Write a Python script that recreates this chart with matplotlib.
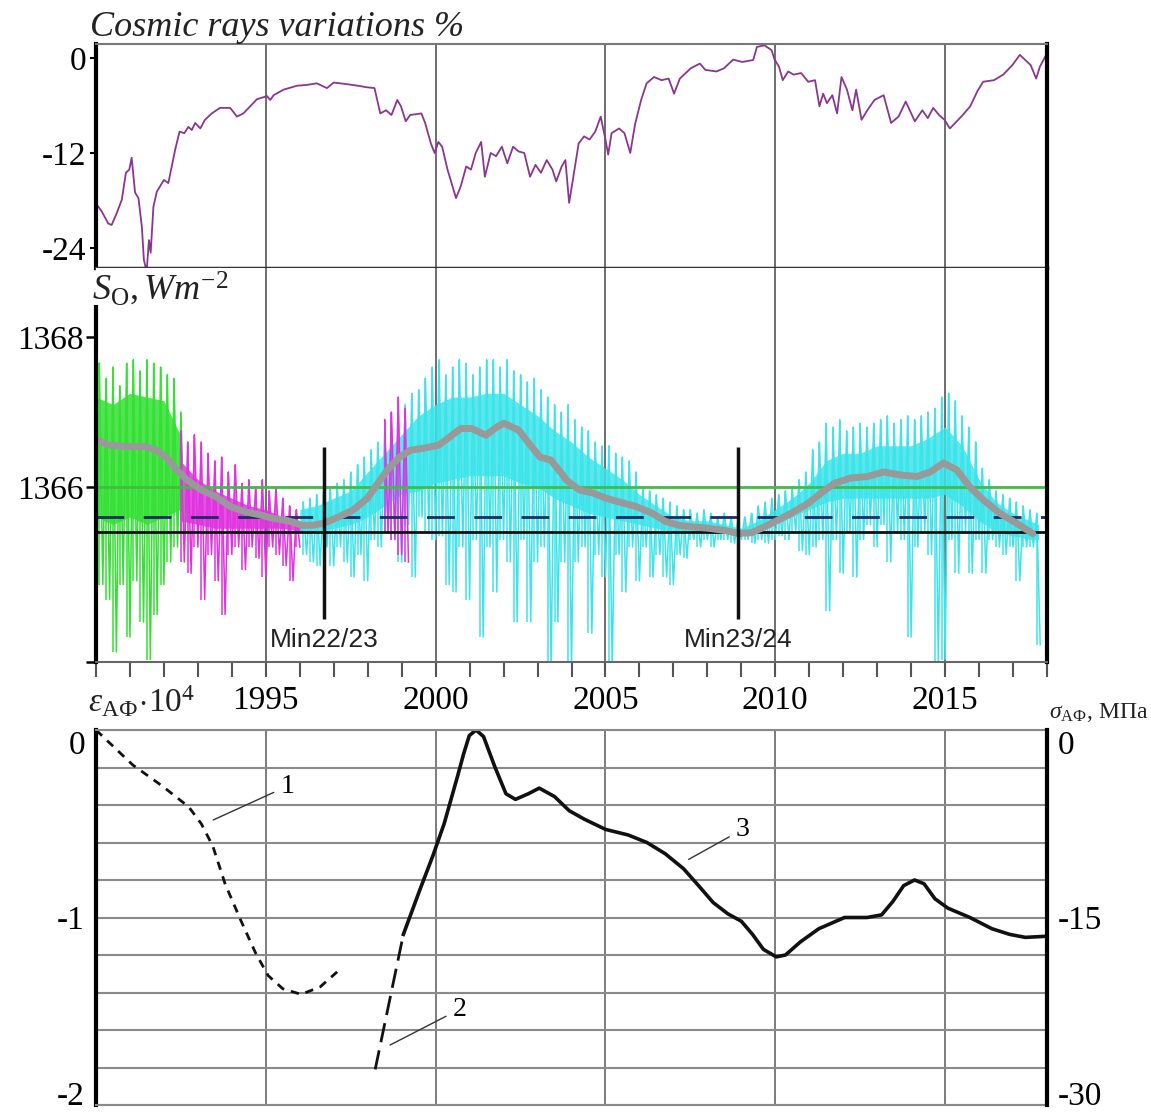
import numpy as np
import matplotlib
matplotlib.use('Agg')
import matplotlib.pyplot as plt
from matplotlib.ticker import FixedLocator

plt.rcParams['font.family'] = ['Liberation Serif', 'DejaVu Serif']
plt.rcParams['mathtext.fontset'] = 'custom'
plt.rcParams['mathtext.rm'] = 'Liberation Serif'
plt.rcParams['mathtext.it'] = 'Liberation Serif:italic'
plt.rcParams['mathtext.bf'] = 'Liberation Serif:bold'
plt.rcParams['axes.unicode_minus'] = False

# ---------------- data ----------------
years_major = [1995, 2000, 2005, 2010, 2015]
years_minor = list(range(1990, 2019))

# cosmic rays variations, %
cr_year = [1990.02, 1990.17, 1990.36, 1990.46, 1990.61, 1990.76, 1990.88, 1990.98, 1991.05, 1991.15,
           1991.25, 1991.35, 1991.41, 1991.49, 1991.56, 1991.61, 1991.69, 1991.79, 1992.0, 1992.13,
           1992.23, 1992.33, 1992.46, 1992.6, 1992.72, 1992.82, 1992.92, 1993.07, 1993.21, 1993.41,
           1993.65, 1993.95, 1994.15, 1994.34, 1994.54, 1994.74, 1994.93, 1995.03, 1995.13, 1995.23,
           1995.52, 1995.92, 1996.21, 1996.5, 1996.8, 1997.0, 1997.38, 1997.71, 1997.98, 1998.2,
           1998.37, 1998.54, 1998.7, 1998.87, 1998.98, 1999.12, 1999.25, 1999.58, 1999.69, 1999.86,
           1999.97, 2000.08, 2000.19, 2000.35, 2000.6, 2000.74, 2000.9, 2001.04, 2001.18, 2001.34,
           2001.45, 2001.62, 2001.78, 2001.95, 2002.11, 2002.28, 2002.44, 2002.61, 2002.78, 2002.94,
           2003.1, 2003.27, 2003.44, 2003.55, 2003.71, 2003.82, 2003.93, 2004.04, 2004.21, 2004.37,
           2004.53, 2004.7, 2004.86, 2005.0, 2005.08, 2005.18, 2005.4, 2005.56, 2005.73, 2005.87,
           2006.05, 2006.21, 2006.43, 2006.65, 2006.86, 2007.02, 2007.19, 2007.51, 2007.78, 2007.94,
           2008.27, 2008.49, 2008.76, 2009.03, 2009.35, 2009.46, 2009.68, 2009.89, 2009.98, 2010.11,
           2010.22, 2010.38, 2010.54, 2010.76, 2010.97, 2011.17, 2011.3, 2011.41, 2011.52, 2011.68,
           2011.82, 2011.95, 2012.11, 2012.27, 2012.38, 2012.54, 2012.71, 2012.92, 2013.19, 2013.41,
           2013.63, 2013.84, 2014.11, 2014.33, 2014.49, 2014.65, 2014.82, 2014.98, 2015.14, 2015.3,
           2015.52, 2015.74, 2015.95, 2016.12, 2016.44, 2016.71, 2016.98, 2017.2, 2017.36, 2017.52,
           2017.68, 2017.79, 2017.95]
cr_val = [-18.5, -19.4, -20.9, -21.1, -19.6, -17.9, -14.5, -14.1, -12.6, -17.0,
          -17.7, -21.3, -25.5, -27.0, -23.0, -24.6, -18.8, -16.9, -15.4, -15.8,
          -13.7, -11.6, -9.3, -9.5, -8.7, -9.1, -8.2, -8.9, -7.8, -7.0,
          -6.3, -6.3, -7.4, -7.0, -6.1, -5.2, -4.96, -4.8, -5.3, -4.7,
          -4.0, -3.5, -3.4, -3.2, -3.8, -3.1, -3.3, -3.5, -3.7, -3.8,
          -7.0, -6.6, -7.2, -5.3, -6.1, -8.0, -7.2, -7.0, -8.2, -10.8,
          -12.0, -10.6, -11.2, -14.1, -17.7, -16.2, -13.7, -14.1, -12.0, -10.6,
          -15.0, -12.0, -12.4, -11.2, -13.3, -11.2, -11.8, -12.0, -15.0, -13.5,
          -14.5, -12.9, -14.1, -15.6, -13.7, -12.9, -18.3, -15.4, -10.8, -9.9,
          -10.3, -9.3, -7.4, -10.3, -12.2, -9.5, -8.9, -9.5, -12.0, -8.4,
          -5.3, -3.2, -2.4, -2.8, -2.6, -4.5, -2.6, -1.3, -0.7, -1.5,
          -1.7, -1.3, -0.2, -0.5, -0.25, 1.4, 1.6, 1.0, -0.2, -1.1,
          -2.8, -1.7, -2.1, -1.9, -3.0, -2.8, -6.1, -4.5, -5.7, -4.7,
          -7.0, -2.4, -4.0, -6.6, -4.0, -7.8, -6.6, -5.3, -4.7, -8.2,
          -7.4, -5.5, -8.0, -6.6, -7.6, -6.3, -7.2, -7.8, -8.9, -8.2,
          -7.2, -6.1, -4.2, -3.0, -2.8, -2.1, -0.9, 0.4, -0.25, -0.9,
          -2.6, -1.1, 0.2]

# total solar irradiance So, W/m2: high/low excursions read every 0.2 yr
green_start = 1990.1
green_hi = [1367.65, 1367.45, 1367.6, 1367.35, 1367.65, 1367.7, 1367.55, 1367.7, 1367.65, 1367.6,
            1367.5, 1367.45, 1367.0]
green_lo = [1364.7, 1364.5, 1363.8, 1364.7, 1364.0, 1364.75, 1364.2, 1363.7, 1364.3, 1364.7,
            1365.0, 1365.2, 1365.4]
green_core_t = [1990.0, 1990.5, 1991.0, 1991.5, 1992.0, 1992.48]
green_core_hi = [1367.2, 1367.1, 1367.25, 1367.2, 1367.15, 1366.7]
green_core_lo = [1365.6, 1365.5, 1365.6, 1365.5, 1365.6, 1365.7]

mag_start = 1992.5
mag_hi = [1366.75, 1366.6, 1366.7, 1366.6, 1366.45, 1366.35, 1366.4, 1366.2, 1366.3, 1366.05,
          1366.1, 1366.0, 1366.1, 1365.95, 1366.0, 1365.85, 1365.75, 1365.7]
mag_lo = [1365.0, 1364.85, 1365.2, 1364.5, 1365.1, 1364.75, 1364.3, 1365.1, 1365.2, 1364.9,
          1365.2, 1365.05, 1364.8, 1365.2, 1365.1, 1364.95, 1364.75, 1365.2]
mag_core_t = [1992.48, 1993.0, 1993.5, 1994.0, 1994.5, 1995.0, 1995.5, 1996.08]
mag_core_hi = [1366.35, 1366.1, 1365.95, 1365.85, 1365.75, 1365.7, 1365.6, 1365.5]
mag_core_lo = [1365.55, 1365.5, 1365.45, 1365.45, 1365.45, 1365.45, 1365.45, 1365.4]
mag2_start = 1998.5
mag2_hi = [1366.9, 1367.0, 1367.2, 1367.05]
mag2_lo = [1365.4, 1365.3, 1365.1, 1365.0]

cyan_start = 1996.1
cyan_hi = [1365.8, 1365.85, 1365.9, 1365.95, 1366.0,
           1366.05, 1366.1, 1366.2, 1366.3, 1366.4,
           1366.5, 1366.6, 1366.75, 1366.85, 1366.95,
           1367.1, 1367.25, 1367.3, 1367.45, 1367.6,
           1367.7, 1367.5, 1367.6, 1367.7, 1367.65,
           1367.5, 1367.6, 1367.7, 1367.7, 1367.6,
           1367.7, 1367.55, 1367.5, 1367.4, 1367.45,
           1367.3, 1367.2, 1367.1, 1367.0, 1367.1,
           1366.9, 1366.8, 1366.75, 1366.6, 1366.55,
           1366.55, 1366.45, 1366.4, 1366.35, 1366.2,
           1366.0, 1365.95, 1365.9, 1365.85, 1365.8,
           1365.75, 1365.7, 1365.7, 1365.65, 1365.7,
           1365.65, 1365.6, 1365.65, 1365.6, 1365.55,
           1365.6, 1365.65, 1365.75, 1365.8, 1365.85,
           1365.9, 1365.95, 1366.0, 1366.1, 1366.2,
           1366.5, 1366.6, 1366.85, 1366.8, 1366.9,
           1366.75, 1366.8, 1366.85, 1366.8, 1366.85,
           1366.9, 1366.95, 1366.85, 1366.9, 1366.95,
           1366.9, 1366.95, 1367.0, 1367.05, 1367.2,
           1367.25, 1367.15, 1366.95, 1366.8, 1366.6,
           1366.25, 1366.1, 1365.95, 1365.9, 1365.85,
           1365.8, 1365.75, 1365.7, 1365.65]
cyan_lo = [1365.1, 1365.0, 1364.95, 1365.2, 1364.95,
           1365.2, 1365.0, 1364.8, 1365.1, 1364.75,
           1365.3, 1365.2, 1365.4, 1365.3, 1365.0,
           1365.5, 1364.8, 1365.6, 1365.4, 1365.3,
           1365.35, 1364.7, 1364.6, 1365.2, 1364.5,
           1365.3, 1364.0, 1365.2, 1364.6, 1365.3,
           1365.0, 1364.2, 1365.3, 1364.2, 1365.0,
           1365.2, 1363.6, 1364.2, 1365.0, 1363.6,
           1365.0, 1365.2, 1364.05, 1365.1, 1364.8,
           1363.6, 1365.1, 1364.6, 1365.2, 1364.75,
           1365.2, 1364.8, 1365.1, 1364.8, 1364.7,
           1365.1, 1365.05, 1365.3, 1365.2, 1365.3,
           1365.2, 1365.3, 1365.3, 1365.25, 1365.3,
           1365.3, 1365.25, 1365.3, 1365.25, 1365.3,
           1365.35, 1365.3, 1365.4, 1365.15, 1365.1,
           1365.2, 1365.3, 1364.35, 1365.3, 1364.85,
           1365.4, 1364.8, 1365.3, 1365.5, 1365.2,
           1365.5, 1365.0, 1365.4, 1365.3, 1364.0,
           1365.2, 1365.4, 1365.1, 1363.65, 1363.7,
           1365.3, 1364.85, 1365.4, 1364.85, 1365.3,
           1364.85, 1365.3, 1365.2, 1365.1, 1365.2,
           1364.75, 1365.2, 1365.2, 1363.9]
cyan_core_t = [1996.0, 1996.5, 1997.0, 1997.5, 1998.0, 1998.5, 1999.0, 1999.5, 2000.0, 2000.5,
               2001.0, 2001.5, 2002.0, 2002.5, 2003.0, 2003.5, 2004.0, 2004.5, 2005.0, 2005.5,
               2006.0, 2006.5, 2007.0, 2007.5, 2008.0, 2008.5, 2009.0, 2009.5, 2010.0, 2010.5,
               2011.0, 2011.5, 2012.0, 2012.5, 2013.0, 2013.5, 2014.0, 2014.5, 2015.0, 2015.5,
               2016.0, 2016.5, 2017.0, 2017.5, 2017.75]
cyan_core_hi = [1365.7, 1365.75, 1365.85, 1365.95, 1366.2, 1366.45, 1366.7, 1366.95, 1367.1, 1367.2,
                1367.2, 1367.25, 1367.25, 1367.1, 1366.95, 1366.75, 1366.6, 1366.4, 1366.25, 1366.1,
                1365.9, 1365.75, 1365.6, 1365.55, 1365.55, 1365.5, 1365.45, 1365.55, 1365.7, 1365.85,
                1366.05, 1366.35, 1366.45, 1366.45, 1366.55, 1366.55, 1366.55, 1366.65, 1366.8, 1366.55,
                1366.1, 1365.8, 1365.65, 1365.55, 1365.5]
cyan_core_lo = [1365.4, 1365.4, 1365.45, 1365.5, 1365.6, 1365.75, 1365.9, 1365.95, 1366.05, 1366.1,
                1366.15, 1366.15, 1366.15, 1366.05, 1366.0, 1365.85, 1365.75, 1365.65, 1365.6, 1365.55,
                1365.5, 1365.45, 1365.4, 1365.4, 1365.4, 1365.4, 1365.35, 1365.4, 1365.5, 1365.6,
                1365.7, 1365.8, 1365.85, 1365.85, 1365.85, 1365.85, 1365.85, 1365.85, 1365.9, 1365.75,
                1365.55, 1365.4, 1365.35, 1365.3, 1365.3]

# smoothed So
smooth_year = [1990.02, 1990.36, 1990.89, 1991.42, 1991.74, 1992.06, 1992.37, 1992.69, 1993.11, 1993.54,
               1993.96, 1994.39, 1994.81, 1995.23, 1995.66, 1996.08, 1996.4, 1996.72, 1997.14, 1997.56,
               1997.99, 1998.3, 1998.62, 1998.94, 1999.26, 1999.68, 2000.1, 2000.42, 2000.74, 2001.06,
               2001.48, 2001.8, 2002.01, 2002.44, 2002.75, 2003.07, 2003.39, 2003.71, 2003.85, 2004.24,
               2004.63, 2005.02, 2005.41, 2005.9, 2006.38, 2006.77, 2007.16, 2007.55, 2008.04, 2008.52,
               2008.91, 2009.3, 2009.69, 2010.08, 2010.47, 2010.96, 2011.35, 2011.74, 2012.22, 2012.71,
               2013.2, 2013.69, 2014.17, 2014.56, 2014.95, 2015.34, 2015.73, 2016.12, 2016.61, 2017.09,
               2017.58]
smooth_val = [1366.63, 1366.56, 1366.54, 1366.54, 1366.50, 1366.40, 1366.23, 1366.09, 1365.96, 1365.87,
              1365.74, 1365.67, 1365.63, 1365.58, 1365.55, 1365.49, 1365.49, 1365.52, 1365.60, 1365.69,
              1365.85, 1366.05, 1366.25, 1366.40, 1366.49, 1366.52, 1366.56, 1366.67, 1366.78, 1366.78,
              1366.69, 1366.80, 1366.85, 1366.76, 1366.58, 1366.40, 1366.36, 1366.18, 1366.09, 1365.96,
              1365.92, 1365.85, 1365.80, 1365.74, 1365.65, 1365.54, 1365.49, 1365.47, 1365.45, 1365.42,
              1365.38, 1365.39, 1365.47, 1365.56, 1365.65, 1365.78, 1365.92, 1366.05, 1366.12, 1366.14,
              1366.20, 1366.16, 1366.14, 1366.20, 1366.32, 1366.23, 1366.00, 1365.83, 1365.65, 1365.52,
              1365.38]

ref_levels = [1366.0, 1365.6, 1365.4]  # green, dashed, black
solar_min_year = [1996.72, 2008.9]
solar_min_label = ['Min22/23', 'Min23/24']

# strain of the rock massif, e*10^4  (right axis: stress, MPa)
c1_year = [1990.0, 1991.08, 1991.96, 1992.73, 1993.1, 1993.44, 1993.8, 1994.25, 1994.7, 1995.07,
           1995.5, 1996.04, 1996.6, 1997.1]
c1_val = [0.0, -0.186, -0.30, -0.41, -0.50, -0.62, -0.82, -1.01, -1.19, -1.31,
          -1.38, -1.41, -1.37, -1.29]
c2_year = [1998.22, 1999.05]
c2_val = [-1.81, -1.09]
c3_year = [1999.05, 1999.54, 1999.92, 2000.25, 2000.64, 2000.82, 2000.99, 2001.19, 2001.41, 2001.74,
           2002.07, 2002.35, 2002.73, 2003.05, 2003.5, 2003.93, 2004.37, 2005.0, 2005.67, 2006.22,
           2006.76, 2007.3, 2007.74, 2008.17, 2008.6, 2009.0, 2009.33, 2009.65, 2010.03, 2010.3,
           2010.74, 2011.28, 2012.04, 2012.7, 2013.13, 2013.46, 2013.78, 2014.1, 2014.38, 2014.7,
           2015.08, 2015.73, 2016.38, 2016.9, 2017.36, 2018.0]
c3_val = [-1.09, -0.85, -0.67, -0.50, -0.25, -0.13, -0.03, 0.0, -0.035, -0.195,
          -0.34, -0.37, -0.34, -0.31, -0.355, -0.43, -0.475, -0.53, -0.56, -0.60,
          -0.66, -0.74, -0.83, -0.92, -0.98, -1.02, -1.09, -1.17, -1.21, -1.20,
          -1.13, -1.06, -1.00, -1.00, -0.986, -0.915, -0.83, -0.80, -0.82, -0.90,
          -0.95, -1.00, -1.06, -1.09, -1.106, -1.10]

# ---------------- figure ----------------
W, H = 1151, 1115
fig = plt.figure(figsize=(W / 100, H / 100), dpi=100)


def box(l, t, r, b):
    return [l / W, 1 - b / H, (r - l) / W, (b - t) / H]


ax1 = fig.add_axes(box(96, 44, 1047, 268))
ax2 = fig.add_axes(box(96, 268, 1047, 662))
ax3 = fig.add_axes(box(96, 730, 1047, 1105))

for ax in (ax1, ax2, ax3):
    ax.set_xlim(1990, 2018)
    ax.set_axisbelow(True)
    ax.set_xticks(years_major)

# --- top: cosmic rays
ax1.plot(cr_year, cr_val, color='#8a3590', lw=1.3)
ax1.set_ylim(-26.53, 1.77)
ax1.set_yticks([0, -12, -24])
ax1.set_yticklabels(['0', '-12', '-24'])
ax1.tick_params(axis='y', length=4, width=1.5, labelsize=24, pad=3)
ax1.tick_params(axis='x', length=0, labelbottom=False)
ax1.grid(axis='x', color='#555555', lw=1.2)
ax1.spines['left'].set_linewidth(3)
ax1.spines['right'].set_linewidth(3)
ax1.spines['bottom'].set_linewidth(2.5)
ax1.spines['bottom'].set_color('#333333')
ax1.spines['top'].set_linewidth(1.5)
ax1.spines['top'].set_color('#777777')

fig.text(90 / W, 1 - 36 / H, 'Cosmic rays variations %', style='italic', fontsize=26,
         va='baseline', color='#222222')

# --- middle: solar irradiance
GREEN, MAGENTA, CYAN = '#33e033', '#e032e0', '#3ce4ea'


def noisy(start, hi, lo, color, core=None):
    # a noisy record: each high value followed by its low value half a step later
    t = start + 0.2 * np.arange(len(hi))
    x = np.column_stack([t, t + 0.1]).ravel()
    y = np.column_stack([hi, lo]).ravel()
    if core is not None:
        ax2.fill_between(core[0], core[1], core[2], color=color, lw=0, alpha=0.85)
    ax2.plot(x, y, color=color, lw=1.1)
    ax2.vlines(t, lo, hi, color=color, lw=1.1)


noisy(green_start, green_hi, green_lo, GREEN, (green_core_t, green_core_lo, green_core_hi))
noisy(mag_start, mag_hi, mag_lo, MAGENTA, (mag_core_t, mag_core_lo, mag_core_hi))
noisy(cyan_start, cyan_hi, cyan_lo, CYAN, (cyan_core_t, cyan_core_lo, cyan_core_hi))
noisy(mag2_start, mag2_hi, mag2_lo, MAGENTA)

ax2.axhline(ref_levels[0], color='#3fbf3f', lw=2)
ax2.axhline(ref_levels[1], color='#1f2a66', lw=2, dashes=(10, 7))
ax2.axhline(ref_levels[2], color='#111111', lw=2)
ax2.plot(smooth_year, smooth_val, color='#999999', lw=5, solid_capstyle='round')

for yr, lab in zip(solar_min_year, solar_min_label):
    ax2.vlines(yr, 1364.24, 1366.53, color='#111111', lw=2.5)
    ax2.text(yr, 1363.96, lab, ha='center', va='center', fontsize=19,
             family='Liberation Sans', color='#222222')

ax2.set_ylim(1363.667, 1368.92)
ax2.set_yticks([1363.667, 1366, 1368])
ax2.set_yticklabels(['', '1366', '1368'])
ax2.tick_params(axis='y', length=7, width=1.8, labelsize=24, pad=2)
ax2.xaxis.set_minor_locator(FixedLocator(years_minor))
ax2.set_xticklabels([str(y) for y in years_major])
ax2.tick_params(axis='x', which='both', direction='out', length=11, width=1.5,
                color='#555555', labelsize=24, pad=6)
ax2.grid(axis='x', color='#555555', lw=1.2)
ax2.spines['top'].set_visible(False)
ax2.spines['left'].set_linewidth(3)
ax2.spines['left'].set_bounds(1363.667, 1368.4)
ax2.spines['right'].set_linewidth(3)
ax2.spines['bottom'].set_linewidth(1.5)
ax2.spines['bottom'].set_color('#666666')

fig.text(92 / W, 1 - 300 / H, r'$S_{\mathrm{O}}, Wm^{-2}$', fontsize=26, va='baseline',
         color='#222222')

# --- bottom: strain / stress
ax3.plot(c1_year, c1_val, color='#111111', lw=2, dashes=(3, 2.5))
ax3.plot(c2_year, c2_val, color='#111111', lw=2, dashes=(7, 3))
ax3.plot(c3_year, c3_val, color='#111111', lw=2.6)

for lab, pt, txt in [('1', (1993.45, -0.48), (1995.63, -0.30)),
                     ('2', (1998.66, -1.68), (2000.7, -1.49)),
                     ('3', (2007.45, -0.69), (2009.04, -0.53))]:
    ax3.annotate(lab, xy=pt, xytext=txt, ha='center', va='center', fontsize=20,
                 arrowprops=dict(arrowstyle='-', lw=1, color='#333333', shrinkA=3, shrinkB=0))

ax3.set_ylim(-2, 0)
ax3.set_yticks([0, -1, -2])
ax3.set_yticklabels(['0', '-1', '-2'])
ax3.yaxis.set_minor_locator(FixedLocator([-0.2, -0.4, -0.6, -0.8, -1.2, -1.4, -1.6, -1.8]))
ax3.tick_params(axis='y', which='both', length=0, labelsize=24, pad=8)
ax3.tick_params(axis='x', length=0, labelbottom=False)
ax3.grid(axis='y', which='both', color='#8a8a8a', lw=1.5)
ax3.grid(axis='x', color='#666666', lw=1.2)
ax3.spines['left'].set_linewidth(3)
ax3.spines['right'].set_visible(False)
for s in ('top', 'bottom'):
    ax3.spines[s].set_color('#8a8a8a')
    ax3.spines[s].set_linewidth(1.5)

ax3r = ax3.twinx()
ax3r.set_ylim(-30, 0)
ax3r.set_yticks([0, -15, -30])
ax3r.set_yticklabels(['0', '-15', '-30'])
ax3r.tick_params(axis='y', length=0, labelsize=24, pad=8)
for s in ('top', 'bottom', 'left'):
    ax3r.spines[s].set_visible(False)
ax3r.spines['right'].set_linewidth(3)

# first label below its line, last label above it, as in the original figure
for a in (ax3, ax3r):
    labs = a.get_yticklabels()
    labs[0].set_va('top')
    labs[-1].set_va('baseline')

fig.text(88 / W, 1 - 712 / H, r'$\varepsilon_{\mathrm{АФ}}\!\cdot\!10^{4}$', fontsize=24,
         va='baseline', color='#222222')
fig.text(1148 / W, 1 - 718 / H, r'$\sigma_{\mathrm{АФ}}$, МПа', fontsize=17,
         ha='right', va='baseline', color='#222222')

fig.savefig('out.png', dpi=100)
